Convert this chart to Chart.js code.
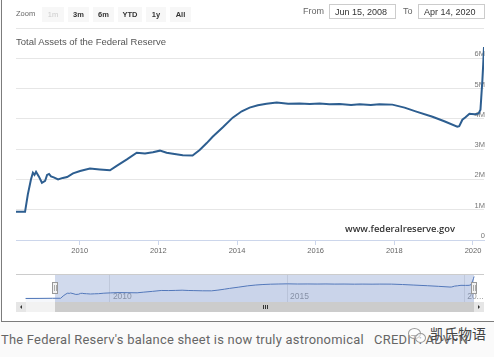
<!DOCTYPE html>
<html><head><meta charset="utf-8">
<script src="https://cdn.jsdelivr.net/npm/chart.js@4.4.1/dist/chart.umd.min.js"></script>
<style>
html,body{margin:0;padding:0;width:494px;height:357px;overflow:hidden;background:#fafafa;font-family:"Liberation Sans",Arial,sans-serif;}
#frame{position:absolute;left:1px;top:0;width:493px;height:322px;background:#fff;border-left:1px solid #7c7c7c;border-bottom:1px solid #7c7c7c;box-sizing:border-box;}
canvas{position:absolute;left:0;}
#main{top:0;}
#nav{top:266px;}
.abs{position:absolute;white-space:nowrap;}
#zoomlbl{left:16px;top:9px;font-size:7.5px;color:#666;}
.btn{position:absolute;top:7px;height:15px;line-height:15px;background:#f7f7f7;color:#333;font-size:7.5px;font-weight:bold;text-align:center;}
.btn.dis{color:#ccc;font-weight:normal;}
.inp{position:absolute;top:4px;height:15px;line-height:15px;border:1px solid #ccc;background:#fff;color:#333;font-size:9px;padding-left:5px;box-sizing:border-box;}
.lbl{position:absolute;top:6px;font-size:9px;color:#666;}
#title{left:16px;top:36px;font-size:9.5px;color:#555;}
#fed{left:345px;top:222px;font-family:"Open Sans",sans-serif;font-weight:600;font-size:9.4px;color:#333;}
#caption{left:1px;top:332px;font-family:"Roboto",sans-serif;font-size:12.9px;color:#666;letter-spacing:0.25px;}
#wm{left:430px;top:323px;font-family:"Noto Sans CJK SC",sans-serif;font-size:14px;color:#444;}
.c1{position:absolute;border:1px solid #999;border-radius:50%;background:rgba(255,255,255,0.5);}
</style></head>
<body>
<div id="frame"></div>
<canvas id="main" width="494" height="260"></canvas>
<canvas id="nav" width="494" height="50"></canvas>
<div class="abs" id="zoomlbl">Zoom</div>
<div class="btn dis" style="left:42px;width:22px;">1m</div>
<div class="btn" style="left:68px;width:21px;">3m</div>
<div class="btn" style="left:93px;width:21px;">6m</div>
<div class="btn" style="left:118px;width:24px;">YTD</div>
<div class="btn" style="left:146px;width:20px;">1y</div>
<div class="btn" style="left:170px;width:21px;">All</div>
<div class="lbl" style="left:303px;">From</div>
<div class="inp" style="left:329px;width:67px;">Jun 15, 2008</div>
<div class="lbl" style="left:403px;">To</div>
<div class="inp" style="left:418px;width:67px;">Apr 14, 2020</div>
<div class="abs" id="title">Total Assets of the Federal Reserve</div>
<div class="abs" id="fed">www.federalreserve.gov</div>
<div class="abs" id="caption">The Federal Reserv's balance sheet is now truly astronomical&nbsp;&nbsp;&nbsp;CREDIT: ADVFN</div>
<div class="c1" style="left:408px;top:328px;width:11px;height:9px;"></div>
<div class="c1" style="left:415px;top:333px;width:9px;height:8px;"></div>
<div class="abs" id="wm">凯氏物语</div>
<script>
// decimal years
const dates = [2007.62, 2008.0, 2008.38, 2008.61, 2008.68, 2008.76, 2008.81, 2008.85, 2008.89, 2008.96,
  2009.04, 2009.12, 2009.17, 2009.22, 2009.27, 2009.34, 2009.45, 2009.57, 2009.68, 2009.83,
  2010.01, 2010.26, 2010.51, 2010.77, 2010.94, 2011.2, 2011.45, 2011.66, 2011.86, 2012.04,
  2012.21, 2012.37, 2012.62, 2012.87, 2013.05, 2013.23, 2013.38, 2013.64, 2013.89, 2014.12,
  2014.32, 2014.53, 2014.75, 2015.01, 2015.3, 2015.59, 2015.85, 2016.1, 2016.35, 2016.61,
  2016.9, 2017.12, 2017.4, 2017.62, 2017.95, 2018.26, 2018.56, 2018.97, 2019.27, 2019.6,
  2019.65, 2019.73, 2019.81, 2019.91, 2020.04, 2020.14, 2020.19, 2020.21, 2020.24, 2020.26,
  2020.28];
// total assets of the Federal Reserve, in M (millions of $ millions)
const totalAssets = [0.89, 0.90, 0.93, 0.93, 1.5, 2.0, 2.22, 2.15, 2.25, 2.1,
  1.89, 1.95, 2.15, 2.18, 2.10, 2.07, 2.00, 2.05, 2.08, 2.2,
  2.28, 2.36, 2.33, 2.30, 2.45, 2.66, 2.88, 2.86, 2.90, 2.95,
  2.88, 2.85, 2.80, 2.79, 2.97, 3.2, 3.41, 3.72, 4.04, 4.25,
  4.37, 4.45, 4.50, 4.54, 4.50, 4.51, 4.49, 4.51, 4.48, 4.49,
  4.46, 4.48, 4.46, 4.48, 4.47, 4.37, 4.24, 4.07, 3.92, 3.74,
  3.76, 3.97, 4.05, 4.17, 4.15, 4.17, 4.30, 4.7, 5.3, 5.8,
  6.37];
const mainXTicks = [2010, 2012, 2014, 2016, 2018, 2020];
const yTicks = [0, 1, 2, 3, 4, 5, 6, 7];
const yTickLabels = ['0', '1M', '2M', '3M', '4M', '5M', '6M', ''];
const navXTicks = [2010, 2015, 2020];
const navXTickLabels = ['2010', '2015', '20...'];
const viewStart = 2008.38, viewEnd = 2020.28;
const rangeFrom = 2008.455, rangeTo = 2020.28;
const navStart = 2007.35, navEnd = 2020.56;

const points = dates.map((d, i) => ({x: d, y: totalAssets[i]}));
const FONT = '"Liberation Sans", Arial, sans-serif';

new Chart(document.getElementById('main'), {
  type: 'line',
  data: {datasets: [{data: points, borderColor: '#2d5e90', borderWidth: 2, pointRadius: 0, tension: 0, fill: false}]},
  options: {
    responsive: false, animation: false, devicePixelRatio: 1,
    layout: {padding: {left: 16, top: 28, right: 10, bottom: 2}},
    plugins: {legend: {display: false}, tooltip: {enabled: false}},
    scales: {
      x: {
        type: 'linear', min: viewStart, max: viewEnd,
        afterBuildTicks: a => { a.ticks = mainXTicks.map(v => ({value: v})); },
        afterFit: s => { s.height = 18; },
        ticks: {callback: v => String(v), maxRotation: 0, autoSkip: false, padding: 1, color: '#666', font: {size: 7.5, family: FONT}},
        grid: {drawOnChartArea: false, drawTicks: true, tickLength: 5, color: '#ccd6eb'},
        border: {display: true, color: '#ccd6eb'}
      },
      y: {
        position: 'right', min: 0, max: 7,
        afterBuildTicks: a => { a.ticks = yTicks.map(v => ({value: v})); },
        afterFit: s => { s.width = 0; },
        ticks: {mirror: true, padding: 1, labelOffset: -4, color: '#777', font: {size: 7.5, family: FONT},
          callback: (v) => yTickLabels[yTicks.indexOf(v)]},
        grid: {color: '#e6e6e6', drawTicks: false},
        border: {display: false}
      }
    }
  }
});

const navPlugin = {
  id: 'navDecor',
  beforeDatasetsDraw(chart) {
    const {ctx, chartArea: ca, scales: {x}} = chart;
    ctx.save();
    ctx.fillStyle = '#999';
    ctx.font = '8.5px ' + FONT;
    ctx.textBaseline = 'alphabetic';
    navXTicks.forEach((v, i) => {
      ctx.fillText(navXTickLabels[i], x.getPixelForValue(v) + 3, ca.bottom - 3);
    });
    ctx.restore();
  },
  afterDatasetsDraw(chart) {
    const {ctx, chartArea: ca, scales: {x}} = chart;
    const xL = Math.round(x.getPixelForValue(rangeFrom));
    const xR = Math.round(x.getPixelForValue(rangeTo));
    ctx.save();
    ctx.fillStyle = 'rgba(102,133,194,0.3)';
    ctx.fillRect(xL, ca.top, xR - xL, ca.bottom - ca.top);
    ctx.strokeStyle = '#cccccc';
    ctx.lineWidth = 1;
    ctx.beginPath();
    ctx.moveTo(ca.left, ca.top + 0.5); ctx.lineTo(ca.right, ca.top + 0.5);
    ctx.stroke();
    // handles
    const mid = (ca.top + ca.bottom) / 2;
    [xL, xR].forEach(hx => {
      ctx.fillStyle = '#f2f2f2';
      ctx.strokeStyle = '#999';
      ctx.fillRect(hx - 3, mid - 6, 6, 12);
      ctx.strokeRect(hx - 2.5, mid - 5.5, 5, 11);
      ctx.beginPath();
      ctx.moveTo(hx - 0.5, mid - 3); ctx.lineTo(hx - 0.5, mid + 3);
      ctx.moveTo(hx + 1.5, mid - 3); ctx.lineTo(hx + 1.5, mid + 3);
      ctx.strokeStyle = '#aaa';
      ctx.stroke();
    });
    // scrollbar
    const sy = ca.bottom, sh = 10;
    ctx.fillStyle = '#f2f2f2';
    ctx.fillRect(ca.left, sy, ca.right - ca.left, sh);
    ctx.fillStyle = '#cccccc';
    ctx.fillRect(xL, sy, xR - xL, sh);
    ctx.fillStyle = '#e6e6e6';
    ctx.fillRect(ca.left, sy, 10, sh);
    ctx.fillRect(ca.right - 10, sy, 10, sh);
    ctx.fillStyle = '#333';
    ctx.beginPath();
    ctx.moveTo(ca.left + 6, sy + 3); ctx.lineTo(ca.left + 6, sy + 7); ctx.lineTo(ca.left + 4, sy + 5); ctx.closePath(); ctx.fill();
    ctx.beginPath();
    ctx.moveTo(ca.right - 6, sy + 3); ctx.lineTo(ca.right - 6, sy + 7); ctx.lineTo(ca.right - 4, sy + 5); ctx.closePath(); ctx.fill();
    const gx = Math.round((xL + xR) / 2);
    ctx.strokeStyle = '#333';
    ctx.beginPath();
    [-2, 0, 2].forEach(o => { ctx.moveTo(gx + o + 0.5, sy + 3); ctx.lineTo(gx + o + 0.5, sy + 7); });
    ctx.stroke();
    ctx.restore();
  }
};

new Chart(document.getElementById('nav'), {
  type: 'line',
  data: {datasets: [{data: points, borderColor: '#4a72b6', borderWidth: 1, pointRadius: 0, tension: 0,
    fill: 'origin', backgroundColor: 'rgba(51,92,173,0.05)'}]},
  options: {
    responsive: false, animation: false, devicePixelRatio: 1,
    layout: {padding: {left: 16, top: 8, right: 10, bottom: 14}},
    plugins: {legend: {display: false}, tooltip: {enabled: false}},
    scales: {
      x: {
        type: 'linear', min: navStart, max: navEnd,
        afterBuildTicks: a => { a.ticks = navXTicks.map(v => ({value: v})); },
        afterFit: s => { s.height = 0; },
        ticks: {display: false},
        grid: {color: '#e6e6e6', drawTicks: false},
        border: {display: false}
      },
      y: {display: false, min: 0, max: 7}
    }
  },
  plugins: [navPlugin]
});
</script>
</body></html>
